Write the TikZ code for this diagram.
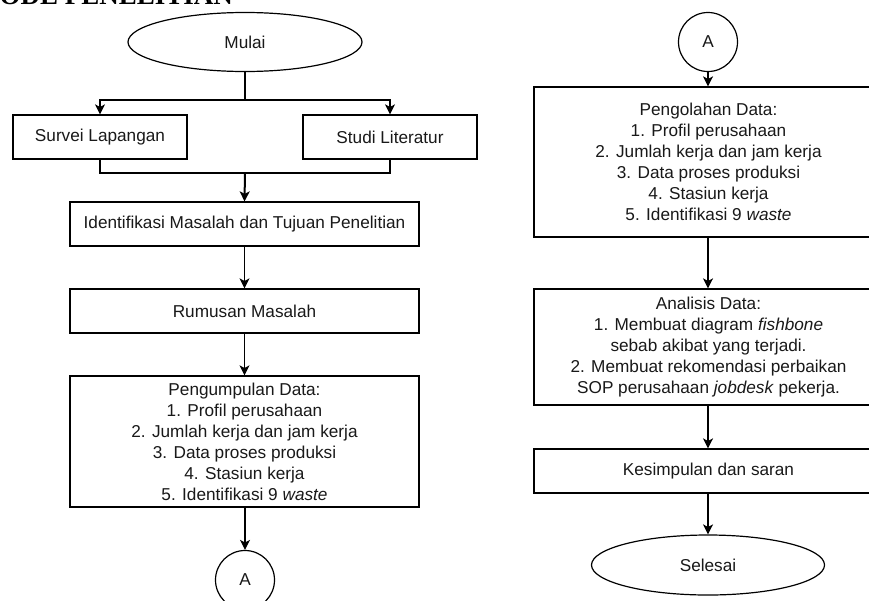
\documentclass[tikz,border=0pt]{standalone}
\usepackage{fontspec}
\setmainfont{Liberation Sans}
\newfontfamily\titlefont{Liberation Serif}
\usetikzlibrary{shapes.geometric,arrows.meta}
\tikzset{
  base/.style={draw=black, line width=1.2pt, inner sep=0pt, align=center,
    font=\fontsize{17.2}{21}\selectfont, text=black!90},
  procbox/.style={base, rectangle, minimum width=349pt},
  smallbox/.style={base, rectangle, minimum width=174pt, minimum height=44pt},
  term/.style={base, ellipse, minimum width=234pt, minimum height=59pt},
  conn/.style={base, circle, minimum size=59pt},
  line/.style={draw=black, line width=1.2pt},
  arr/.style={line, -{Stealth[length=10pt,width=10pt,inset=2.5pt]}},
}
\begin{document}
\begin{tikzpicture}[x=1pt, y=-1pt]
\useasboundingbox (0,0) rectangle (869,600);
\clip (0,0) rectangle (869,600);
\fill[white] (0,0) rectangle (869,600);

\node[anchor=base east, inner sep=0pt, font=\titlefont\bfseries\fontsize{27}{30}\selectfont] (title) at (233,4) {ODE PENELITIAN};

% left column
\node[term] (mulai) at (245,42) {Mulai};
\node[smallbox] (survei) at (100,137) {Survei Lapangan};
\node[smallbox] (studi) at (390,137) {Studi Literatur};
\node[procbox, minimum height=44pt] (ident) at (244.5,224) {Identifikasi Masalah dan Tujuan Penelitian};
\node[procbox, minimum height=44pt] (rumus) at (244.5,311) {Rumusan Masalah};
\node[procbox, minimum height=131pt] (kumpul) at (244.5,441.5) {Pengumpulan Data:\\1. Profil perusahaan\\2. Jumlah kerja dan jam kerja\\3. Data proses produksi\\4. Stasiun kerja\\5. Identifikasi 9 \textit{waste}};
\node[conn] (A1) at (245,580) {A};

\coordinate (split) at (245,100);
\coordinate (join) at (245,173);
\draw[line] (mulai.south) -- (split);
\draw[arr] (split) -| (survei.north);
\draw[arr] (split) -| (studi.north);
\draw[line] (survei.south) |- (join) -| (studi.south);
\draw[arr, line width=2pt] (join) -- (ident.north);
\draw[arr] (ident) -- (rumus);
\draw[arr] (rumus) -- (kumpul);
\draw[arr] (kumpul.south -| A1.north) -- (A1.north);

% right column
\node[conn] (A2) at (708,42) {A};
\node[procbox, minimum height=150pt] (olah) at (708.5,162) {Pengolahan Data:\\1. Profil perusahaan\\2. Jumlah kerja dan jam kerja\\3. Data proses produksi\\4. Stasiun kerja\\5. Identifikasi 9 \textit{waste}};
\node[procbox, minimum height=116pt] (analisis) at (708.5,347) {Analisis Data:\\1. Membuat diagram \textit{fishbone}\\sebab akibat yang terjadi.\\2. Membuat rekomendasi perbaikan\\SOP perusahaan \textit{jobdesk} pekerja.};
\node[procbox, minimum height=44pt] (simpul) at (708.5,471) {Kesimpulan dan saran};
\node[term, minimum width=233pt, minimum height=60pt] (selesai) at (708,565) {Selesai};

\draw[arr] (A2.south) -- (A2.south |- olah.north);
\draw[arr] (olah.south -| A2.south) -- (analisis.north -| A2.south);
\draw[arr] (analisis.south -| A2.south) -- (simpul.north -| A2.south);
\draw[arr] (simpul.south -| A2.south) -- (selesai.north);
\end{tikzpicture}
\end{document}
